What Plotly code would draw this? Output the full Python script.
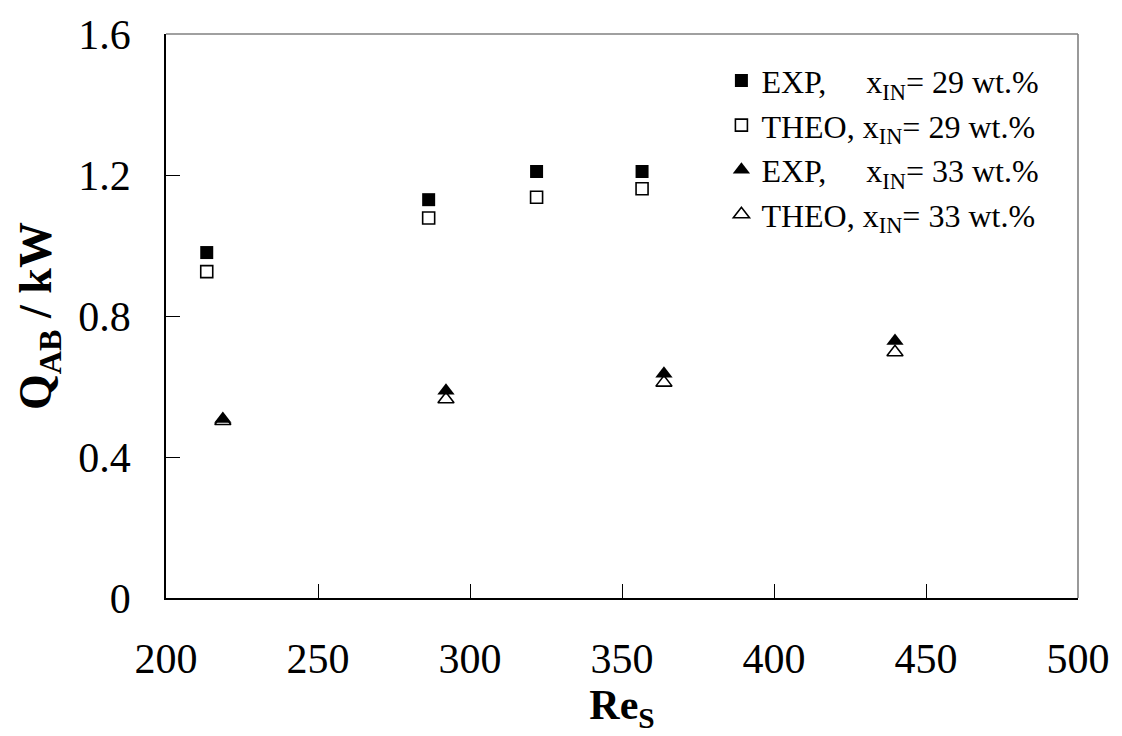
import plotly.graph_objects as go

# Absorber heat duty vs. solution Reynolds number
re_29 = [213.4, 286.4, 321.9, 356.6]
q_exp_29 = [0.980, 1.130, 1.210, 1.210]
q_theo_29 = [0.926, 1.078, 1.137, 1.161]

re_33 = [218.7, 292.1, 363.8, 439.8]
q_exp_33 = [0.508, 0.588, 0.636, 0.729]
q_theo_33 = [0.502, 0.564, 0.611, 0.697]

x_ticks = [200, 250, 300, 350, 400, 450, 500]
y_ticks = [0, 0.4, 0.8, 1.2, 1.6]
y_tick_text = ["0", "0.4", "0.8", "1.2", "1.6"]

SERIF = "Liberation Serif"
NB = "\u00a0"

series = [
    (re_29, q_exp_29, "square", 13, 0, f"EXP,{NB*4} x<sub>IN</sub>= 29 wt.%"),
    (re_29, q_theo_29, "square-open", 12, 1.6, f"THEO, x<sub>IN</sub>= 29 wt.%"),
    (re_33, q_exp_33, "triangle-up", 15, 0, f"EXP,{NB*4} x<sub>IN</sub>= 33 wt.%"),
    (re_33, q_theo_33, "triangle-up-open", 14, 1.6, f"THEO, x<sub>IN</sub>= 33 wt.%"),
]

fig = go.Figure()
for xs, ys, sym, size, lw, name in series:
    fig.add_trace(go.Scatter(
        x=xs, y=ys, mode="markers", name=name,
        marker=dict(symbol=sym, size=size, color="black",
                    line=dict(color="black", width=lw)),
    ))

fig.update_layout(
    width=1122, height=736,
    margin=dict(l=166, r=43, t=30, b=138),
    paper_bgcolor="white", plot_bgcolor="white",
    font=dict(family=SERIF, color="black", size=42),
    showlegend=True,
    legend=dict(
        x=0.609, y=0.966, xanchor="left", yanchor="top",
        bgcolor="rgba(0,0,0,0)", font=dict(family=SERIF, size=32),
        itemsizing="trace",
    ),
    xaxis=dict(
        range=[200, 500], tickvals=x_ticks, ticks="inside", ticklen=14,
        tickcolor="black", tickwidth=1.3, showgrid=False, zeroline=False,
        showline=True, linecolor="black", linewidth=1.6,
        tickfont=dict(family=SERIF, size=42), ticklabelstandoff=23,
        title=dict(text="<b>Re<sub>S</sub></b>", font=dict(family=SERIF, size=42), standoff=0),
    ),
    yaxis=dict(
        range=[0, 1.6], tickvals=y_ticks, ticktext=y_tick_text, ticks="inside",
        ticklen=14, tickcolor="black", tickwidth=1.3, showgrid=False,
        zeroline=False, showline=True, linecolor="black", linewidth=1.6,
        tickfont=dict(family=SERIF, size=42), ticklabelstandoff=25,
        title=dict(text="<b>Q<sub>AB</sub> / kW</b>", font=dict(family=SERIF, size=46), standoff=12),
    ),
    shapes=[
        dict(type="line", xref="paper", yref="paper", x0=0, x1=1, y0=1, y1=1,
             line=dict(color="#808080", width=1.6)),
        dict(type="line", xref="paper", yref="paper", x0=1, x1=1, y0=0, y1=1,
             line=dict(color="#808080", width=1.6)),
    ],
)

fig.write_html("out.html")
